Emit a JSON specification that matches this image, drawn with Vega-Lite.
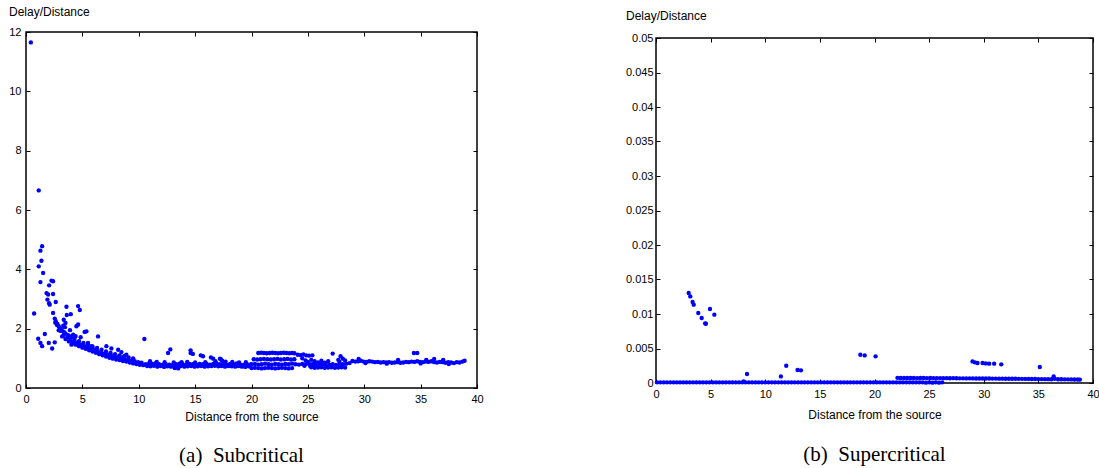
{
 "$schema": "https://vega.github.io/schema/vega-lite/v6.json",
 "padding": {"left": 7, "top": 4, "right": 0, "bottom": 0},
 "background": "white",
 "config": {
  "view": {"stroke": "black", "strokeWidth": 1.5},
  "axis": {"domain": false, "grid": false, "tickColor": "black", "tickWidth": 1, "tickSize": -4, "labelFont": "Liberation Sans", "labelFontSize": 11, "labelColor": "black", "labelPadding": 9, "labelFlush": false, "labelOverlap": false, "titleFont": "Liberation Sans", "titleFontSize": 12, "titleFontWeight": "normal", "titleColor": "black"},
  "title": {"font": "Liberation Serif", "fontSize": 21, "fontWeight": "normal", "color": "black"}
 },
 "datasets": {
  "sub": [
   {"d":0.43,"r":11.65},{"d":0.72,"r":2.51},{"d":1.13,"r":6.66},{"d":1.13,"r":4.1},{"d":1.28,"r":4.63},{"d":1.43,"r":4.78},{"d":1.37,"r":4.29},{"d":1.52,"r":3.88},{"d":1.28,"r":3.57},
   {"d":1.08,"r":1.66},{"d":1.28,"r":1.52},{"d":1.43,"r":1.41},{"d":1.67,"r":1.82},{"d":2.02,"r":1.52},{"d":2.32,"r":1.33},{"d":2.55,"r":1.54},
   {"d":1.82,"r":3.2},{"d":1.96,"r":3.15},{"d":1.9,"r":2.98},{"d":2.05,"r":2.86},{"d":2.1,"r":2.81},{"d":2.26,"r":3.62},{"d":2.4,"r":3.6},{"d":2.05,"r":3.46},{"d":2.4,"r":3.17},{"d":2.64,"r":2.9},{"d":2.4,"r":2.53},
   {"d":2.55,"r":2.34},{"d":2.64,"r":2.25},{"d":2.79,"r":2.16},{"d":2.9,"r":2.08},{"d":3.08,"r":2.0},{"d":3.2,"r":1.93},{"d":3.38,"r":1.88},
   {"d":3.59,"r":2.74},{"d":3.35,"r":2.3},{"d":3.5,"r":2.19},{"d":3.97,"r":2.49},{"d":3.62,"r":2.46},{"d":4.47,"r":2.08},{"d":4.62,"r":2.14},{"d":4.62,"r":2.76},{"d":4.77,"r":2.63},{"d":5.2,"r":1.89},{"d":5.36,"r":1.91},{"d":6.39,"r":1.74},{"d":3.74,"r":1.78},{"d":4.03,"r":1.71},{"d":4.18,"r":1.8},{"d":4.32,"r":1.57},{"d":4.03,"r":1.46},{"d":4.85,"r":1.71},{"d":5.5,"r":1.52},{"d":5.8,"r":1.41},{"d":7.13,"r":1.41},{"d":7.57,"r":1.33},{"d":8.17,"r":1.29},{"d":8.46,"r":1.21},{"d":8.9,"r":1.12},{"d":10.5,"r":1.65},{"d":3.45,"r":2.05},{"d":3.9,"r":1.95},{"d":4.4,"r":1.75},{"d":3.3,"r":2.1},
   {"d":2.6,"r":2.2},{"d":2.9,"r":1.95},{"d":3.2,"r":1.74},{"d":3.5,"r":1.65},{"d":3.8,"r":1.57},{"d":4.1,"r":1.51},{"d":4.4,"r":1.46},{"d":4.7,"r":1.41},{"d":5.0,"r":1.36},{"d":5.3,"r":1.32},{"d":5.6,"r":1.27},{"d":5.9,"r":1.23},{"d":6.2,"r":1.19},{"d":6.5,"r":1.14},{"d":6.8,"r":1.1},{"d":7.1,"r":1.06},{"d":7.4,"r":1.02},{"d":7.7,"r":0.99},{"d":8.0,"r":0.96},{"d":8.3,"r":0.94},{"d":8.6,"r":0.91},{"d":8.9,"r":0.89},{"d":9.2,"r":0.86},{"d":9.5,"r":0.83},{"d":9.8,"r":0.81},{"d":10.1,"r":0.78},{"d":10.4,"r":0.77},
   {"d":2.75,"r":2.12},{"d":3.05,"r":1.93},{"d":3.35,"r":1.79},{"d":3.65,"r":1.69},{"d":3.95,"r":1.62},{"d":4.25,"r":1.56},{"d":4.55,"r":1.51},{"d":4.85,"r":1.46},{"d":5.15,"r":1.42},{"d":5.45,"r":1.37},{"d":5.75,"r":1.33},{"d":6.05,"r":1.29},{"d":6.35,"r":1.24},{"d":6.65,"r":1.2},{"d":6.95,"r":1.16},{"d":7.25,"r":1.12},{"d":7.55,"r":1.09},{"d":7.85,"r":1.05},{"d":8.15,"r":1.03},{"d":8.45,"r":1.0},{"d":8.75,"r":0.98},{"d":9.05,"r":0.95},{"d":9.35,"r":0.92},{"d":9.65,"r":0.9},{"d":9.95,"r":0.87},{"d":10.25,"r":0.85},
   {"d":3.5,"r":1.84},{"d":3.9,"r":1.74},{"d":4.3,"r":1.66},{"d":4.7,"r":1.58},{"d":5.1,"r":1.52},{"d":5.5,"r":1.46},{"d":5.9,"r":1.4},{"d":6.3,"r":1.35},{"d":6.7,"r":1.29},{"d":7.1,"r":1.23},{"d":7.5,"r":1.18},{"d":7.9,"r":1.14},{"d":8.3,"r":1.1},{"d":8.7,"r":1.07},{"d":9.1,"r":1.03},{"d":9.5,"r":1.0},
   {"d":10.6,"r":0.8},{"d":10.9,"r":0.82},{"d":11.2,"r":0.81},{"d":11.5,"r":0.84},{"d":11.8,"r":0.8},{"d":12.1,"r":0.78},{"d":12.4,"r":0.8},{"d":12.7,"r":0.79},{"d":13.0,"r":0.77},{"d":13.3,"r":0.8},{"d":13.6,"r":0.82},{"d":13.9,"r":0.8},{"d":14.2,"r":0.79},{"d":14.5,"r":0.81},{"d":14.8,"r":0.8},{"d":15.1,"r":0.79},{"d":15.4,"r":0.81},{"d":15.7,"r":0.8},{"d":16.0,"r":0.82},{"d":16.3,"r":0.79},{"d":16.6,"r":0.81},{"d":16.9,"r":0.83},{"d":17.2,"r":0.8},{"d":17.5,"r":0.82},{"d":17.8,"r":0.79},{"d":18.1,"r":0.81},{"d":18.4,"r":0.8},{"d":18.7,"r":0.83},{"d":19.0,"r":0.79},{"d":19.3,"r":0.78},{"d":19.6,"r":0.8},{"d":19.9,"r":0.79},
   {"d":10.75,"r":0.74},{"d":11.05,"r":0.73},{"d":11.35,"r":0.75},{"d":11.65,"r":0.72},{"d":11.95,"r":0.74},{"d":12.25,"r":0.71},{"d":12.55,"r":0.73},{"d":12.85,"r":0.72},{"d":13.15,"r":0.7},{"d":13.45,"r":0.73},{"d":13.75,"r":0.74},{"d":14.05,"r":0.72},{"d":14.35,"r":0.73},{"d":14.65,"r":0.74},{"d":14.95,"r":0.72},{"d":15.25,"r":0.73},{"d":15.55,"r":0.74},{"d":15.85,"r":0.72},{"d":16.15,"r":0.73},{"d":16.45,"r":0.74},{"d":16.75,"r":0.75},{"d":17.05,"r":0.73},{"d":17.35,"r":0.74},{"d":17.65,"r":0.72},{"d":17.95,"r":0.74},{"d":18.25,"r":0.73},{"d":18.55,"r":0.72},{"d":18.85,"r":0.74},{"d":19.15,"r":0.72},{"d":19.45,"r":0.71},{"d":19.75,"r":0.73},
   {"d":11.0,"r":0.9},{"d":11.6,"r":0.88},{"d":12.3,"r":0.87},{"d":13.1,"r":0.86},{"d":13.8,"r":0.87},{"d":14.3,"r":0.88},{"d":15.0,"r":0.86},{"d":15.9,"r":0.87},{"d":16.8,"r":0.9},{"d":17.4,"r":0.92},{"d":17.7,"r":0.89},{"d":18.3,"r":0.88},{"d":18.9,"r":0.86},{"d":19.5,"r":0.87},
   {"d":12.6,"r":1.18},{"d":12.8,"r":1.3},{"d":14.6,"r":1.27},{"d":14.6,"r":1.18},{"d":14.8,"r":1.15},{"d":15.5,"r":1.1},{"d":15.7,"r":1.07},{"d":16.4,"r":1.03},{"d":16.6,"r":0.99},{"d":17.2,"r":0.99},{"d":17.3,"r":0.96},{"d":13.2,"r":0.67},{"d":13.5,"r":0.66},
   {"d":20.6,"r":1.18},{"d":20.85,"r":1.19},{"d":21.1,"r":1.18},{"d":21.35,"r":1.17},{"d":21.6,"r":1.18},{"d":21.85,"r":1.19},{"d":22.1,"r":1.18},{"d":22.35,"r":1.17},{"d":22.6,"r":1.18},{"d":22.85,"r":1.19},{"d":23.1,"r":1.18},{"d":23.35,"r":1.17},{"d":23.6,"r":1.18},{"d":23.8,"r":1.17},
   {"d":24.1,"r":1.12},{"d":24.35,"r":1.11},{"d":24.6,"r":1.13},{"d":24.85,"r":1.1},{"d":25.1,"r":1.09},{"d":25.4,"r":1.1},
   {"d":20.2,"r":0.97},{"d":20.5,"r":0.96},{"d":20.8,"r":0.97},{"d":21.1,"r":0.98},{"d":21.4,"r":0.97},{"d":21.7,"r":0.96},{"d":22.0,"r":0.97},{"d":22.3,"r":0.98},{"d":22.6,"r":0.96},{"d":22.9,"r":0.97},{"d":23.2,"r":0.98},{"d":23.5,"r":0.96},{"d":23.8,"r":0.97},
   {"d":20.0,"r":0.8},{"d":20.3,"r":0.81},{"d":20.6,"r":0.79},{"d":20.9,"r":0.8},{"d":21.2,"r":0.82},{"d":21.5,"r":0.8},{"d":21.8,"r":0.79},{"d":22.1,"r":0.81},{"d":22.4,"r":0.8},{"d":22.7,"r":0.79},{"d":23.0,"r":0.81},{"d":23.3,"r":0.8},{"d":23.6,"r":0.82},{"d":23.9,"r":0.8},{"d":24.2,"r":0.79},{"d":24.5,"r":0.81},{"d":24.8,"r":0.8},{"d":25.1,"r":0.82},{"d":25.4,"r":0.8},{"d":25.7,"r":0.79},{"d":26.0,"r":0.81},{"d":26.3,"r":0.8},{"d":26.6,"r":0.78},{"d":26.9,"r":0.79},{"d":27.2,"r":0.8},{"d":27.5,"r":0.78},{"d":27.8,"r":0.79},{"d":28.1,"r":0.8},{"d":28.4,"r":0.82},{"d":28.7,"r":0.84},
   {"d":20.0,"r":0.67},{"d":20.3,"r":0.68},{"d":20.6,"r":0.67},{"d":20.9,"r":0.66},{"d":21.2,"r":0.67},{"d":21.5,"r":0.68},{"d":21.8,"r":0.67},{"d":22.1,"r":0.66},{"d":22.4,"r":0.67},{"d":22.7,"r":0.68},{"d":23.0,"r":0.67},{"d":23.3,"r":0.66},{"d":23.6,"r":0.67},
   {"d":25.3,"r":0.7},{"d":25.6,"r":0.68},{"d":25.9,"r":0.69},{"d":26.2,"r":0.7},{"d":26.5,"r":0.68},{"d":26.8,"r":0.69},{"d":27.1,"r":0.7},{"d":27.4,"r":0.68},{"d":27.7,"r":0.69},{"d":28.0,"r":0.7},{"d":28.3,"r":0.69},
   {"d":24.5,"r":1.0},{"d":24.8,"r":0.93},{"d":25.0,"r":0.88},{"d":25.3,"r":0.95},{"d":25.6,"r":0.9},{"d":25.9,"r":0.86},{"d":26.2,"r":0.92},{"d":26.5,"r":0.85},{"d":26.8,"r":0.9},{"d":24.7,"r":0.75},{"d":25.2,"r":0.74},
   {"d":27.2,"r":1.16},{"d":27.9,"r":1.07},{"d":28.1,"r":0.99},{"d":28.3,"r":0.93},{"d":27.7,"r":0.95},{"d":27.8,"r":0.88},
   {"d":28.95,"r":0.91},{"d":29.2,"r":0.89},{"d":29.45,"r":0.9},{"d":29.7,"r":0.92},{"d":29.95,"r":0.89},{"d":30.2,"r":0.88},{"d":30.45,"r":0.9},{"d":30.7,"r":0.89},{"d":30.95,"r":0.87},{"d":31.2,"r":0.88},{"d":31.45,"r":0.86},{"d":31.7,"r":0.87},{"d":31.95,"r":0.86},{"d":32.2,"r":0.87},{"d":32.45,"r":0.85},{"d":32.7,"r":0.86},{"d":32.95,"r":0.87},{"d":33.2,"r":0.85},{"d":33.45,"r":0.86},{"d":33.7,"r":0.88},{"d":33.95,"r":0.87},{"d":34.2,"r":0.89},{"d":34.45,"r":0.88},{"d":34.7,"r":0.9},{"d":34.95,"r":0.88},{"d":35.2,"r":0.87},{"d":35.45,"r":0.89},{"d":35.7,"r":0.88},{"d":35.95,"r":0.9},{"d":36.2,"r":0.87},{"d":36.45,"r":0.86},{"d":36.7,"r":0.88},{"d":36.95,"r":0.87},{"d":37.2,"r":0.85},{"d":37.45,"r":0.87},{"d":37.7,"r":0.86},{"d":37.95,"r":0.84},{"d":38.2,"r":0.87},{"d":38.45,"r":0.86},{"d":38.7,"r":0.89},{"d":38.9,"r":0.92},
   {"d":34.4,"r":1.18},{"d":34.7,"r":1.18},{"d":29.5,"r":0.98},{"d":36.2,"r":0.98},{"d":37.0,"r":0.95},{"d":33.0,"r":0.95},{"d":35.5,"r":0.95},{"d":30.1,"r":0.84},{"d":32.0,"r":0.82},{"d":35.0,"r":0.83},{"d":37.5,"r":0.81}
  ],
  "sup": [
   {"d":0.1,"r":0.0001},{"d":0.4,"r":0.0001},{"d":0.7,"r":0.0001},{"d":1.0,"r":0.0001},{"d":1.3,"r":0.0001},{"d":1.6,"r":0.0001},{"d":1.9,"r":0.0001},{"d":2.2,"r":0.0001},{"d":2.5,"r":0.0001},{"d":2.8,"r":0.0001},{"d":3.1,"r":0.0001},{"d":3.4,"r":0.0001},{"d":3.7,"r":0.0001},{"d":4.0,"r":0.0001},{"d":4.3,"r":0.0001},{"d":4.6,"r":0.0001},{"d":4.9,"r":0.0001},{"d":5.2,"r":0.0001},{"d":5.5,"r":0.0001},{"d":5.8,"r":0.0001},{"d":6.1,"r":0.0001},{"d":6.4,"r":0.0001},{"d":6.7,"r":0.0001},{"d":7.0,"r":0.0001},{"d":7.3,"r":0.0001},{"d":7.6,"r":0.0001},{"d":7.9,"r":0.0001},{"d":8.2,"r":0.0001},{"d":8.5,"r":0.0001},{"d":8.8,"r":0.0001},{"d":9.1,"r":0.0001},{"d":9.4,"r":0.0001},{"d":9.7,"r":0.0001},{"d":10.0,"r":0.0001},{"d":10.3,"r":0.0001},{"d":10.6,"r":0.0001},{"d":10.9,"r":0.0001},{"d":11.2,"r":0.0001},{"d":11.5,"r":0.0001},{"d":11.8,"r":0.0001},{"d":12.1,"r":0.0001},{"d":12.4,"r":0.0001},{"d":12.7,"r":0.0001},{"d":13.0,"r":0.0001},{"d":13.3,"r":0.0001},{"d":13.6,"r":0.0001},{"d":13.9,"r":0.0001},{"d":14.2,"r":0.0001},{"d":14.5,"r":0.0001},{"d":14.8,"r":0.0001},{"d":15.1,"r":0.0001},{"d":15.4,"r":0.0001},{"d":15.7,"r":0.0001},{"d":16.0,"r":0.0001},{"d":16.3,"r":0.0001},{"d":16.6,"r":0.0001},{"d":16.9,"r":0.0001},{"d":17.2,"r":0.0001},{"d":17.5,"r":0.0001},{"d":17.8,"r":0.0001},{"d":18.1,"r":0.0001},{"d":18.4,"r":0.0001},{"d":18.7,"r":0.0001},{"d":19.0,"r":0.0001},{"d":19.3,"r":0.0001},{"d":19.6,"r":0.0001},{"d":19.9,"r":0.0001},{"d":20.2,"r":0.0001},{"d":20.5,"r":0.0001},{"d":20.8,"r":0.0001},{"d":21.1,"r":0.0001},{"d":21.4,"r":0.0001},{"d":21.7,"r":0.0001},{"d":22.0,"r":0.0001},{"d":22.3,"r":0.0001},{"d":22.6,"r":0.0001},{"d":22.9,"r":0.0001},{"d":23.2,"r":0.0001},{"d":23.5,"r":0.0001},{"d":23.8,"r":0.0001},{"d":24.1,"r":0.0001},{"d":24.4,"r":0.0001},{"d":24.7,"r":0.00005},{"d":25.0,"r":0.0001},{"d":25.3,"r":0.00005},{"d":25.6,"r":0.0001},{"d":25.9,"r":0.00005},{"d":26.2,"r":0.0001},
   {"d":22.1,"r":0.00075},{"d":22.4,"r":0.00072},{"d":22.7,"r":0.00072},{"d":23.0,"r":0.00073},{"d":23.3,"r":0.00072},{"d":23.6,"r":0.00072},{"d":23.9,"r":0.00071},{"d":24.2,"r":0.00072},{"d":24.5,"r":0.00072},{"d":24.8,"r":0.00071},{"d":25.1,"r":0.00072},{"d":25.4,"r":0.00071},{"d":25.7,"r":0.0007},{"d":26.0,"r":0.00071},{"d":26.3,"r":0.0007},{"d":26.6,"r":0.0007},{"d":26.9,"r":0.00069},{"d":27.2,"r":0.0007},{"d":27.5,"r":0.00069},{"d":27.8,"r":0.00068},{"d":28.1,"r":0.00068},{"d":28.4,"r":0.00067},{"d":28.7,"r":0.00068},{"d":29.0,"r":0.00067},{"d":29.3,"r":0.00066},{"d":29.6,"r":0.00066},{"d":29.9,"r":0.00065},{"d":30.2,"r":0.00066},{"d":30.5,"r":0.00065},{"d":30.8,"r":0.00064},{"d":31.1,"r":0.00064},{"d":31.4,"r":0.00063},{"d":31.7,"r":0.00063},{"d":32.0,"r":0.00062},{"d":32.3,"r":0.00062},{"d":32.6,"r":0.00061},{"d":32.9,"r":0.00061},{"d":33.2,"r":0.0006},{"d":33.5,"r":0.0006},{"d":33.8,"r":0.00059},{"d":34.1,"r":0.00059},{"d":34.4,"r":0.00058},{"d":34.7,"r":0.00058},{"d":35.0,"r":0.00057},{"d":35.3,"r":0.00057},{"d":35.6,"r":0.00056},{"d":35.9,"r":0.00056},{"d":36.2,"r":0.00055},{"d":36.5,"r":0.00062},{"d":36.8,"r":0.00055},{"d":37.1,"r":0.00054},{"d":37.4,"r":0.00053},{"d":37.7,"r":0.00053},{"d":38.0,"r":0.00052},{"d":38.3,"r":0.00051},{"d":38.6,"r":0.0005},{"d":38.8,"r":0.00049},
   {"d":2.99,"r":0.01304},{"d":3.14,"r":0.01255},{"d":3.35,"r":0.01174},{"d":3.45,"r":0.01135},{"d":3.87,"r":0.01014},{"d":4.18,"r":0.00942},{"d":4.5,"r":0.00865},{"d":4.57,"r":0.00859},{"d":4.94,"r":0.01072},{"d":5.34,"r":0.0099},{"d":8.02,"r":0.00023},{"d":8.33,"r":0.0013},{"d":11.43,"r":0.00096},{"d":11.92,"r":0.0025},{"d":12.96,"r":0.00188},{"d":13.27,"r":0.00183},{"d":18.7,"r":0.0041},{"d":19.1,"r":0.004},{"d":20.1,"r":0.00386},{"d":28.97,"r":0.00313},{"d":29.19,"r":0.00299},{"d":29.43,"r":0.0029},{"d":29.89,"r":0.0029},{"d":30.19,"r":0.00284},{"d":30.5,"r":0.0028},{"d":30.95,"r":0.0028},{"d":31.6,"r":0.0027},{"d":35.13,"r":0.00232},{"d":36.4,"r":0.00096}
  ]
 },
 "hconcat": [
  {
   "width": 451, "height": 356,
   "data": {"name": "sub"},
   "title": {"text": "(a)\u00a0 Subcritical", "orient": "bottom", "anchor": "middle", "frame": "group", "offset": 23, "dx": -10},
   "layer": [
    {"mark": {"type": "circle", "size": 19, "color": "#0000ff", "opacity": 1},
     "encoding": {
      "x": {"field": "d", "type": "quantitative", "scale": {"domain": [0, 40], "nice": false, "zero": false}, "axis": {"values": [0,5,10,15,20,25,30,35,40], "title": "Distance from the source", "titlePadding": 7}},
      "y": {"field": "r", "type": "quantitative", "scale": {"domain": [0, 12], "nice": false}, "axis": {"values": [0,2,4,6,8,10,12], "title": "Delay/Distance", "titleAngle": 0, "titleAlign": "left", "titleBaseline": "middle", "titleX": -17.5, "titleY": -21}}
     }},
    {"mark": {"type": "circle", "opacity": 0},
     "encoding": {
      "x": {"field": "d", "type": "quantitative", "axis": {"orient": "top", "values": [0,5,10,15,20,25,30,35,40], "labels": false, "title": null}},
      "y": {"field": "r", "type": "quantitative", "axis": {"orient": "right", "values": [0,2,4,6,8,10,12], "labels": false, "title": null}}
     }}
   ],
   "resolve": {"axis": {"x": "independent", "y": "independent"}}
  },
  {
   "spacing": -2,
   "vconcat": [
    {
     "width": 437, "height": 1,
     "data": {"values": []},
     "mark": {"type": "point", "opacity": 0},
     "view": {"stroke": null},
     "title": {"text": "Delay/Distance", "orient": "top", "anchor": "start", "frame": "group", "font": "Liberation Sans", "fontSize": 12, "dx": -30, "offset": 4, "baseline": "middle"}
    },
    {
     "width": 437, "height": 345,
     "data": {"name": "sup"},
     "title": {"text": "(b)\u00a0 Supercritical", "orient": "bottom", "anchor": "middle", "frame": "group", "offset": 24},
     "layer": [
      {"mark": {"type": "circle", "size": 19, "color": "#0000ff", "opacity": 1},
       "encoding": {
        "x": {"field": "d", "type": "quantitative", "scale": {"domain": [0, 40], "nice": false, "zero": false}, "axis": {"values": [0,5,10,15,20,25,30,35,40], "title": "Distance from the source", "titlePadding": 10}},
        "y": {"field": "r", "type": "quantitative", "scale": {"domain": [0, 0.05], "nice": false}, "axis": {"values": [0,0.005,0.01,0.015,0.02,0.025,0.03,0.035,0.04,0.045,0.05], "format": "~g", "title": null, "labelPadding": 7}}
       }},
      {"mark": {"type": "circle", "opacity": 0},
       "encoding": {
        "x": {"field": "d", "type": "quantitative", "axis": {"orient": "top", "values": [0,5,10,15,20,25,30,35,40], "labels": false, "title": null}},
        "y": {"field": "r", "type": "quantitative", "axis": {"orient": "right", "values": [0,0.005,0.01,0.015,0.02,0.025,0.03,0.035,0.04,0.045,0.05], "labels": false, "title": null}}
       }}
     ],
     "resolve": {"axis": {"x": "independent", "y": "independent"}}
    }
   ]
  }
 ],
 "spacing": 140
}
